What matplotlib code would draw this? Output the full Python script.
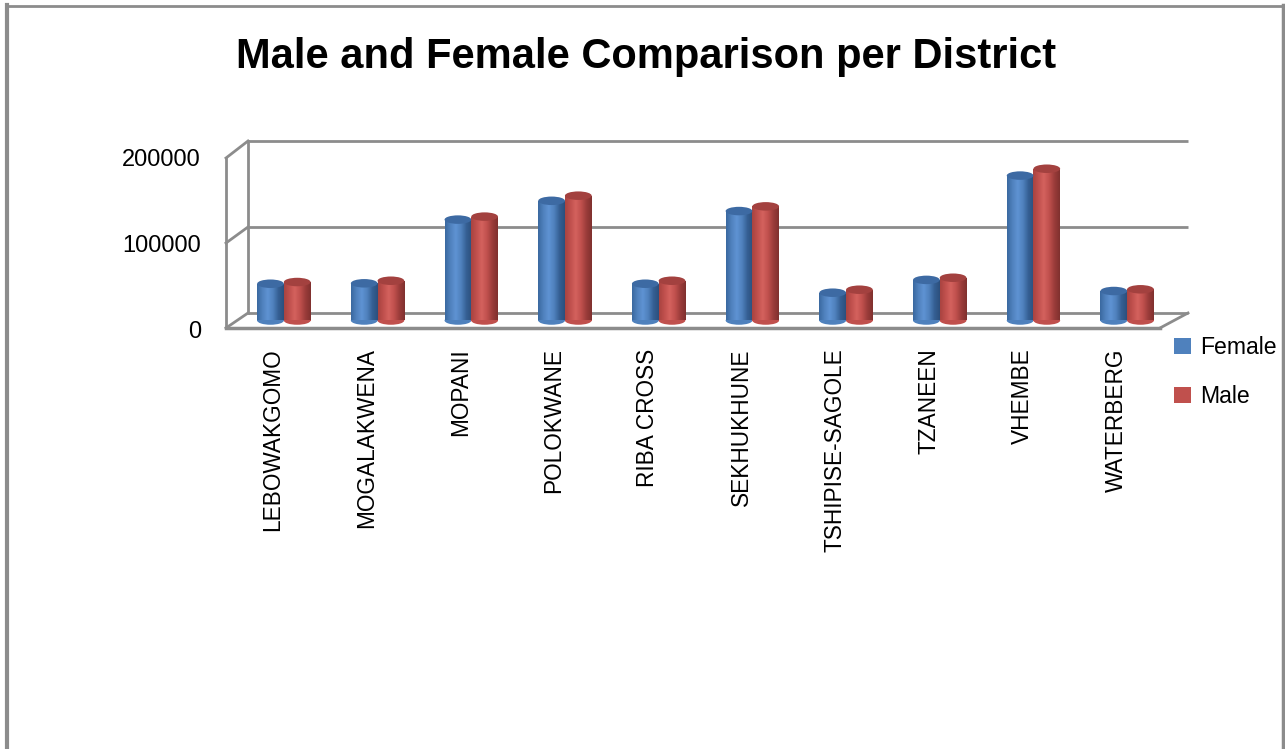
import numpy as np
import matplotlib
matplotlib.use("Agg")
import matplotlib.pyplot as plt
from matplotlib.patches import Ellipse, Patch
from matplotlib.transforms import ScaledTranslation
from matplotlib.colors import LinearSegmentedColormap

# ---- data ----
districts = ["LEBOWAKGOMO", "MOGALAKWENA", "MOPANI", "POLOKWANE", "RIBA CROSS",
             "SEKHUKHUNE", "TSHIPISE-SAGOLE", "TZANEEN", "VHEMBE", "WATERBERG"]
female = [43000, 43500, 118000, 140000, 43000, 128000, 32500, 47500, 169500, 34500]
male = [45000, 46500, 121500, 146000, 46500, 133500, 36000, 50000, 177500, 36500]
series_names = ["Female", "Male"]
yticks = [0, 100000, 200000]
ytick_labels = ["0", "100000", "200000"]
title = "Male and Female Comparison per District"

W, H = 1285, 749
DPI = 100
FONT = "Liberation Sans"
plt.rcParams["font.family"] = [FONT, "DejaVu Sans"]

fig = plt.figure(figsize=(W / DPI, H / DPI), dpi=DPI)
fig.patch.set_facecolor("white")

# ---- background / 3D frame overlay in pixel coordinates ----
bg = fig.add_axes([0, 0, 1, 1], zorder=0)
bg.set_xlim(0, W)
bg.set_ylim(H, 0)
bg.axis("off")
fc = "#8c8c8c"
lw = 2.0
bx0, bx1 = 248, 1188
fx0, fx1 = 226, 1160
back_y = [313, 227, 141]
front_y = [328, 243, 158]
for byy, fyy in zip(back_y, front_y):
    bg.plot([bx0, bx1], [byy, byy], color=fc, lw=lw, solid_capstyle="butt")
    bg.plot([fx0, bx0], [fyy, byy], color=fc, lw=lw)
bg.plot([bx0, bx0], [back_y[0], back_y[-1]], color=fc, lw=lw)
bg.plot([fx0, fx0], [front_y[0], front_y[-1]], color=fc, lw=lw)
bg.plot([fx0, fx1], [front_y[0], front_y[0]], color=fc, lw=lw + 0.5)
bg.plot([fx1, bx1], [front_y[0], back_y[0]], color=fc, lw=lw)
# chart border
bg.plot([7, 7], [5, H], color="#8c8c8c", lw=3)
bg.plot([7, 1283], [5.5, 5.5], color="#8c8c8c", lw=2)
bg.plot([1283, 1283], [5, H], color="#8c8c8c", lw=2.5)

# ---- main axes (mid-depth plane) ----
left_px, right_px = 237, 1174
zero_px, top_px = 320.5, 149.5
ax = fig.add_axes([left_px / W, (H - zero_px) / H, (right_px - left_px) / W,
                   (zero_px - top_px) / H], zorder=1)
ax.patch.set_alpha(0)
n = len(districts)
ax.set_xlim(-0.5, n - 0.5)
ax.set_ylim(0, 200000)
for s in ax.spines.values():
    s.set_visible(False)

x = np.arange(n)
bw = 0.285
px_per_val = (zero_px - top_px) / 200000.0
cap_h = 8.5 / px_per_val

blue_cmap = LinearSegmentedColormap.from_list(
    "b", ["#3a689f", "#4f81bd", "#5f93d3", "#4f81bd", "#355f93", "#2c4f7c"])
red_cmap = LinearSegmentedColormap.from_list(
    "r", ["#a84340", "#c0504d", "#d4625e", "#c0504d", "#9a3c3a", "#7f302e"])
grad = np.linspace(0, 1, 256).reshape(1, -1)

def cylinders(xpos, vals, cmap, base_col, top_col):
    bars = ax.bar(xpos, vals, width=bw, color=base_col, zorder=2, linewidth=0)
    for rect, v in zip(bars, vals):
        x0 = rect.get_x()
        x1 = x0 + rect.get_width()
        xc = (x0 + x1) / 2
        bot = Ellipse((xc, 0), x1 - x0, cap_h, facecolor=base_col, edgecolor="none",
                      zorder=2, clip_on=False)
        ax.add_patch(bot)
        imb = ax.imshow(grad, cmap=cmap, extent=(x0, x1, -cap_h, v), aspect="auto",
                        zorder=2.1, interpolation="bilinear")
        imb.set_clip_path(rect)
        imb2 = ax.imshow(grad, cmap=cmap, extent=(x0, x1, -cap_h, v), aspect="auto",
                         zorder=2.1, interpolation="bilinear")
        imb2.set_clip_path(bot)
        top = Ellipse((xc, v), x1 - x0, cap_h, facecolor=top_col, edgecolor="none",
                      zorder=2.3, clip_on=False)
        ax.add_patch(top)
    return bars

cylinders(x - bw / 2, female, blue_cmap, "#4f81bd", "#3d6aa3")
cylinders(x + bw / 2, male, red_cmap, "#c0504d", "#a3413f")
ax.set_xlim(-0.5, n - 0.5)
ax.set_ylim(0, 200000)

# y tick labels aligned with the front edge
ax.set_yticks(yticks)
ax.set_yticklabels(ytick_labels, fontsize=17)
ax.tick_params(axis="y", length=0, pad=26)
for lab in ax.get_yticklabels():
    lab.set_transform(lab.get_transform() + ScaledTranslation(0, -8.5 / DPI, fig.dpi_scale_trans))

# x tick labels (front edge positions)
ax.set_xticks(x)
ax.set_xticklabels(districts, rotation=90, fontsize=16.3, va="top", ha="center")
ax.tick_params(axis="x", length=0, pad=20)
for lab in ax.get_xticklabels():
    lab.set_transform(lab.get_transform() + ScaledTranslation(-11 / DPI, 0, fig.dpi_scale_trans))

# title
fig.text(646 / W, 1 - 57 / H, title, ha="center", va="center", fontsize=30,
         fontweight="bold")

# legend
handles = [Patch(facecolor="#4f81bd", edgecolor="none"),
           Patch(facecolor="#c0504d", edgecolor="none")]
fig.legend(handles, series_names, loc="upper left",
           bbox_to_anchor=(1174 / W, 1 - 336 / H), frameon=False, fontsize=16.6,
           handlelength=0.72, handleheight=0.72, handletextpad=0.42,
           labelspacing=1.12, borderpad=0, borderaxespad=0)

fig.savefig("out.png", dpi=DPI, facecolor="white")
